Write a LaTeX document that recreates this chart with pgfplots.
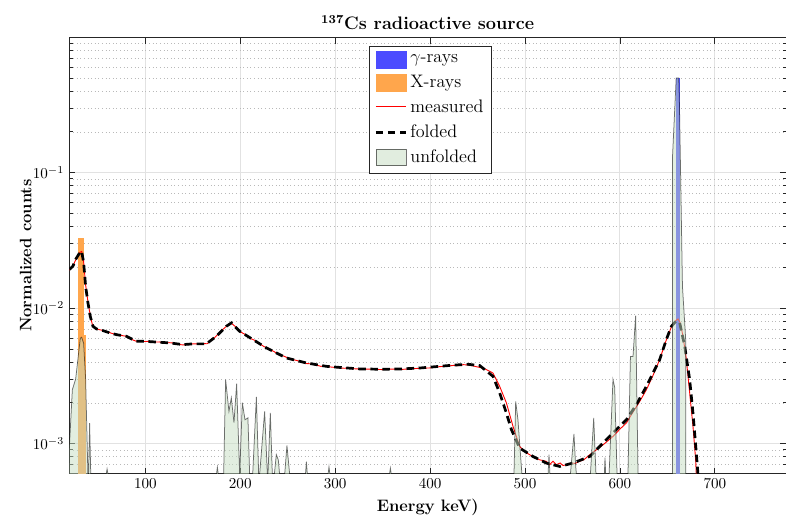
\documentclass[border=0pt]{standalone}
\usepackage{pgfplots}
\pgfplotsset{compat=1.18}
\definecolor{gammablue}{rgb}{0.3,0.3,1}
\definecolor{xorange}{rgb}{1,0.65,0.3}
\definecolor{unfgreen}{RGB}{197,221,193}
\definecolor{gridmaj}{RGB}{226,226,226}
\definecolor{gridmin}{RGB}{185,185,185}
\pgfplotsset{
  patchleg/.style={legend image code/.code={\draw[##1] (0pt,-5.5pt) rectangle (20pt,5.5pt);}},
  lineleg/.style={legend image code/.code={\draw[##1] (0pt,0pt) -- (20pt,0pt);}},
}

\begin{document}
\begin{tikzpicture}
\begin{axis}[
  scale only axis,
  width=475pt, height=289pt,
  xmin=20, xmax=775,
  ymode=log, ymin=6e-4, ymax=0.99,
  xtick={100,200,...,700},
  tick align=inside,
  tick pos=both,
  major tick length=4pt, minor tick length=2.2pt,
  grid=both,
  major grid style={gridmaj, line width=0.6pt},
  minor grid style={gridmin, dotted, line width=0.4pt},
  axis line style={black!85},
  every tick/.style={black!85, line width=0.5pt},
  title style={font=\fontsize{12}{14}\selectfont\bfseries, yshift=-4.5pt},
  title={\textsuperscript{137}Cs radioactive source},
  label style={font=\fontsize{11}{13}\selectfont\bfseries},
  xlabel={Energy keV)},
  ylabel={Normalized counts},
  ylabel style={yshift=-6pt},
  legend style={at={(0.418,0.982)}, anchor=north west, draw=black!85,
    font=\large, cells={anchor=west}, inner sep=3.5pt, row sep=2.7pt},
]
% gamma line
\addplot[draw=gammablue, line width=0.3pt, fill=gammablue, patchleg]
  coordinates {(659,5.9e-4) (659,0.5) (663,0.5) (663,5.9e-4)} -- cycle;
\addlegendentry{$\gamma$-rays}
% X-ray lines
\addplot[draw=xorange, line width=0.3pt, fill=xorange, patchleg]
  coordinates {(29.8,5.9e-4) (29.8,0.0327) (34.2,0.0327) (34.2,0.0063) (37.1,0.0063) (37.1,5.9e-4)} -- cycle;
\addlegendentry{X-rays}
% measured
\addplot[color=red, line width=0.6pt,
  legend image code/.code={\draw[red, line width=0.7pt] (0pt,0.4pt) -- (20pt,0.4pt);}]
  coordinates {
  (20,0.0191) (23,0.0200) (26.5,0.0226) (29,0.0245) (31,0.0258) (33,0.0262)
  (35,0.0220) (37,0.0150) (39.5,0.0112) (42,0.0088) (44.5,0.0074) (47,0.0071)
  (50,0.00698) (55,0.00685) (60,0.0067) (65,0.0065) (70,0.0064) (75,0.00628)
  (80,0.0062) (85,0.0059) (90,0.00571) (95,0.0057) (100,0.00567) (105,0.0057)
  (110,0.00562) (115,0.00563) (120,0.00552) (125,0.00556) (130,0.00553)
  (135,0.0054) (140,0.00535) (145,0.00538) (150,0.00545) (155,0.00544)
  (160,0.00548) (165,0.00546) (170,0.0058) (175,0.00625) (180,0.0068)
  (185,0.0073) (190,0.0078) (195,0.0073) (200,0.0067) (205,0.0064) (210,0.0060)
  (215,0.0058) (220,0.0055) (225,0.0052) (230,0.00505) (235,0.0048) (240,0.0046)
  (245,0.00445) (250,0.0043) (255,0.00418) (260,0.0041) (265,0.0040) (270,0.0039)
  (275,0.00388) (280,0.0038) (285,0.00372) (290,0.00376) (295,0.00368)
  (300,0.00365) (305,0.00362) (310,0.0036) (315,0.00363) (320,0.00357)
  (325,0.00356) (330,0.00355) (340,0.00354) (350,0.00352) (360,0.00355)
  (370,0.00353) (380,0.00357) (390,0.0036) (400,0.00362) (405,0.00366)
  (410,0.0037) (415,0.00372) (420,0.00375) (425,0.00378) (430,0.00376)
  (435,0.00383) (440,0.0038) (445,0.00375) (450,0.00368) (455,0.00362)
  (459.3,0.00352) (466.3,0.00332) (473.3,0.00265) (480.4,0.0020) (487.4,0.00134)
  (494.4,0.000954) (500,0.00087) (505,0.000828) (510,0.00079) (515.4,0.00076)
  (522.5,0.000741) (526,0.000699) (529.5,0.000741) (533,0.000699) (537,0.00072)
  (540,0.00069) (544,0.000699) (549,0.000719) (553,0.000715) (557.6,0.000741)
  (562,0.00076) (568.2,0.000828) (575.2,0.000901) (583,0.00099) (592.7,0.00113)
  (600,0.00128) (606.8,0.00142) (614,0.00172) (620.9,0.00205) (627.9,0.0025)
  (635,0.0032) (641.9,0.00417) (648,0.0056) (654,0.0072) (658,0.0080)
  (661.2,0.00833) (663.5,0.0078) (666.5,0.0062) (670,0.00417) (673.5,0.00237)
  (677,0.00134) (679.8,0.00076) (681.5,0.0004)
  };
\addlegendentry{measured}
% folded
\addplot[black, line width=1.8pt, dash pattern=on 5pt off 3pt, lineleg]
  coordinates {
  (20,0.0193) (23.7,0.0204) (26.6,0.0229) (30.8,0.0256) (32.9,0.0263) (35,0.0217)
  (37.1,0.0145) (39.5,0.0110) (42,0.0087) (44.8,0.00735) (48.4,0.00703)
  (55.3,0.00683) (62.4,0.00657) (69.4,0.00638) (80,0.0062) (90.5,0.00569)
  (100,0.00569) (115,0.0056) (125.6,0.00554) (139.6,0.00538) (150.2,0.00545)
  (164.3,0.00545) (174.8,0.0062) (185.4,0.00735) (190.6,0.00778) (199.4,0.00675)
  (213.4,0.00586) (227.5,0.00509) (248.6,0.00429) (269.7,0.00394) (290.7,0.00372)
  (311.8,0.00362) (325.8,0.00356) (350,0.00354) (370,0.00356) (390,0.00362)
  (410,0.00372) (425,0.0038) (440,0.00385) (452.3,0.00377) (466.3,0.00314)
  (473.3,0.00237) (480.4,0.00168) (485.7,0.00127) (494.4,0.000928)
  (508.4,0.000804) (522.5,0.000719) (536.6,0.000679) (550.6,0.000719)
  (568.2,0.000804) (578.7,0.000954) (592.7,0.0012) (606.8,0.0015)
  (617.4,0.00194) (627.9,0.00265) (641.9,0.00417) (648.9,0.00586)
  (654.3,0.00735) (659,0.0080) (663,0.00778) (668.3,0.00523) (673.5,0.00297)
  (677,0.00168) (680.5,0.000852) (682.2,0.0006) (684,0.0003)
  };
\addlegendentry{folded}
% unfolded
\addplot[draw=black, draw opacity=0.55, fill=unfgreen, fill opacity=0.5,
  line width=0.5pt, patchleg]
  coordinates {
  (19.5,5.9e-4) (20,9.5e-4) (23.1,2.5e-3) (26.6,3.0e-3) (31.5,6.0e-3)
  (32.9,6.1e-3) (35,5.5e-3) (37.1,3.0e-3) (39.5,5.9e-4) (40.2,5.9e-4)
  (41.3,1.42e-3) (42.5,5.9e-4)
  (58.7,5.9e-4) (59.7,6.5e-4) (60.7,5.9e-4)
  (174.9,5.9e-4) (175.9,6.7e-4) (176.9,5.9e-4)
  (182.5,5.9e-4) (184.6,2.97e-3) (188.1,1.73e-3) (190.6,2.18e-3) (193.4,1.43e-3)
  (196.2,2.77e-3) (199.4,5.9e-4) (202.2,2.01e-3) (205,1.50e-3) (208.1,1.55e-3)
  (209.9,5.9e-4) (213.1,5.9e-4) (217,2.21e-3) (219.4,5.9e-4)
  (220.4,5.9e-4) (225.7,1.73e-3) (228.6,5.9e-4)
  (229.2,5.9e-4) (231.7,1.69e-3) (233.8,5.9e-4)
  (235.9,5.9e-4) (238,8.3e-4) (240.1,7.6e-4) (241.5,5.9e-4)
  (246.8,5.9e-4) (249.2,9.7e-4) (252.1,5.9e-4)
  (268.7,5.9e-4) (269.7,7.35e-4) (270.7,5.9e-4)
  (292.5,5.9e-4) (293.5,6.75e-4) (294.5,5.9e-4)
  (357.2,5.9e-4) (358.2,6.6e-4) (359.2,5.9e-4)
  (488.4,5.9e-4) (490.2,2.05e-3) (492.6,1.5e-3) (496.8,5.9e-4)
  (524.3,5.9e-4) (525.3,8.3e-4) (526.3,5.9e-4)
  (547.8,5.9e-4) (551.6,1.18e-3) (553.3,7e-4) (554.2,5.9e-4)
  (568.9,5.9e-4) (572.4,1.55e-3) (574.8,5.9e-4)
  (583.6,5.9e-4) (584.3,7.9e-4) (585,5.9e-4)
  (588.6,5.9e-4) (592.7,2.97e-3) (594.5,2.6e-3) (597,5.9e-4)
  (608.5,5.9e-4) (611.1,4.4e-3) (613.8,4.4e-3) (616.6,8.8e-3) (619.1,5.9e-4)
  (655.3,5.9e-4) (655.4,0.13) (659.3,0.5) (662,0.5) (662.8,0.3) (665.9,0.0145)
  (669.3,0.0059) (669.4,5.9e-4)
  };
\addlegendentry{unfolded}
\end{axis}
\pgfresetboundingbox
\path[use as bounding box] ([xshift=-46pt,yshift=-32.5pt]current axis.south west) rectangle ([yshift=25pt]current axis.north east);
\end{tikzpicture}
\end{document}
